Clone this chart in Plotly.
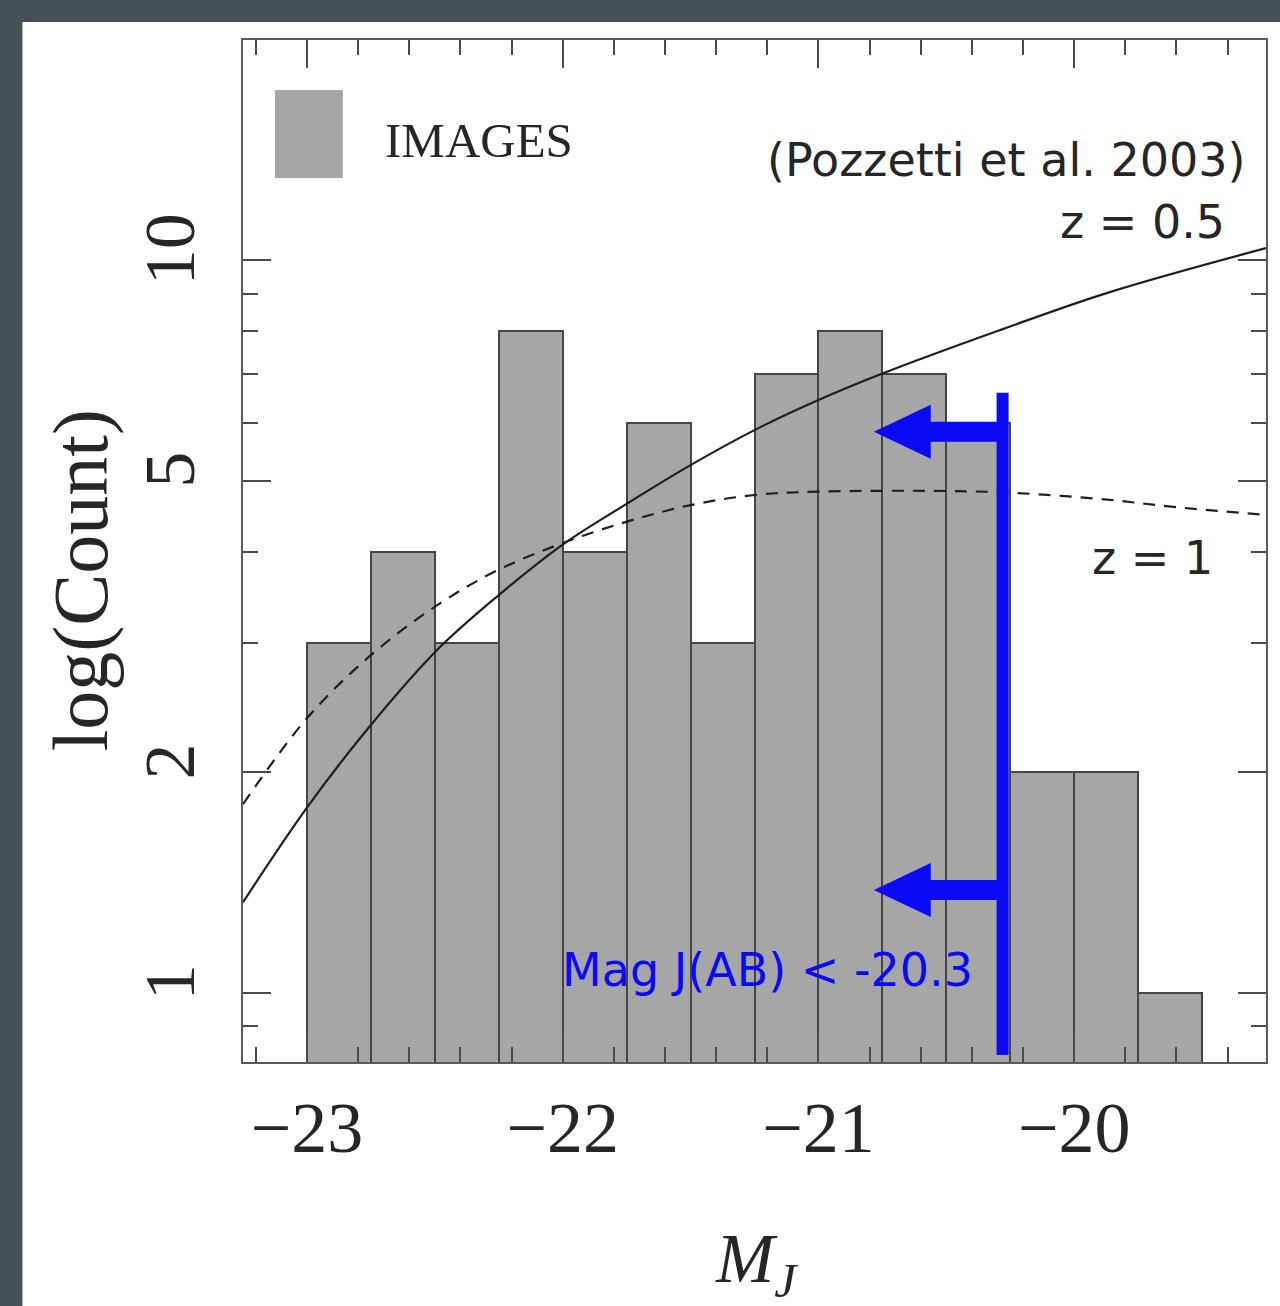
import math
import plotly.graph_objects as go

# ---------------- data ----------------
bin_left_edges = [-23.0, -22.75, -22.5, -22.25, -22.0, -21.75, -21.5, -21.25,
                  -21.0, -20.75, -20.5, -20.25, -20.0, -19.75]
bin_width = 0.25
counts = [3, 4, 3, 8, 4, 6, 3, 7, 8, 7, 6, 2, 2, 1]

# Pozzetti et al. 2003 luminosity functions (scaled)
z05_mag = [-23.25, -23.0, -22.755, -22.49, -22.25, -22.0, -21.745, -21.5,
           -21.25, -21.0, -20.745, -20.3, -19.87, -19.25]
z05_n = [1.33, 1.79, 2.31, 2.94, 3.49, 4.09, 4.66, 5.25,
         5.86, 6.44, 7.01, 8.0, 9.02, 10.38]

z1_mag = [-23.25, -23.0, -22.75, -22.48, -22.25, -22.0, -21.745, -21.5,
          -21.25, -21.0, -20.5, -20.23, -19.87, -19.6, -19.25]
z1_n = [1.81, 2.37, 2.89, 3.40, 3.78, 4.11, 4.40, 4.63,
        4.78, 4.83, 4.84, 4.81, 4.71, 4.60, 4.49]

mag_cut = -20.28          # Mag J(AB) < -20.3 selection limit
x_ticks = [-23, -22, -21, -20]
x_tick_text = ["\u221223", "\u221222", "\u221221", "\u221220"]
y_ticks = [1, 2, 5, 10]
y_minor = [0.9, 3, 4, 6, 7, 8, 9, 20]

# ---------------- geometry / style ----------------
W, H = 1280, 1306
L, R, T, B = 243, 12, 40, 244
pw, ph = W - L - R, H - T - B
X_RANGE = [-23.25, -19.25]
Y_RANGE = [math.log10(0.805), math.log10(19.96)]
BLUE = "#0a0af5"
TXT = "#262626"
SERIF = "Liberation Serif, DejaVu Serif, serif"
SANS = "DejaVu Sans, Verdana, sans-serif"


def px2paper_x(px):
    return (px - L) / pw


def px2paper_y(py):
    return (H - B - py) / ph


centers = [e + bin_width / 2 for e in bin_left_edges]

fig = go.Figure()

fig.add_trace(go.Bar(
    x=centers, y=counts, width=bin_width, name="IMAGES",
    marker=dict(color="#a6a6a6", line=dict(color="#454545", width=2)),
    showlegend=False, hoverinfo="x+y",
))

fig.add_trace(go.Scatter(
    x=z05_mag, y=z05_n, mode="lines",
    line=dict(color="#1e1e1e", width=2.2, shape="spline", smoothing=1.0),
    name="z = 0.5", showlegend=False,
))
fig.add_trace(go.Scatter(
    x=z1_mag, y=z1_n, mode="lines",
    line=dict(color="#1e1e1e", width=2.2, shape="spline", smoothing=1.0, dash="12px,9px"),
    name="z = 1", showlegend=False,
))

# --- blue selection limit with arrows ---
dex_per_px = (Y_RANGE[1] - Y_RANGE[0]) / ph
unit_per_px = (X_RANGE[1] - X_RANGE[0]) / pw
line_top = 6.59
line_bot = 0.823
fig.add_trace(go.Scatter(
    x=[mag_cut, mag_cut], y=[line_top, line_bot], mode="lines",
    line=dict(color=BLUE, width=12), showlegend=False, hoverinfo="skip",
))
for ya in [5.83, 1.382]:
    x_base = mag_cut - 74 * unit_per_px
    x_tip = x_base - 55 * unit_per_px
    fig.add_trace(go.Scatter(
        x=[mag_cut, x_base], y=[ya, ya], mode="lines",
        line=dict(color=BLUE, width=20), showlegend=False, hoverinfo="skip",
    ))
    f = 10 ** (27 * dex_per_px)
    fig.add_trace(go.Scatter(
        x=[x_tip, x_base + 2 * unit_per_px, x_base + 2 * unit_per_px, x_tip],
        y=[ya, ya * f, ya / f, ya], mode="lines", fill="toself",
        fillcolor=BLUE, line=dict(color=BLUE, width=0),
        showlegend=False, hoverinfo="skip",
    ))

axis_common = dict(
    showline=True, linecolor="#5a5a5a", linewidth=2, mirror="ticks",
    ticks="inside", tickcolor="#4a4a4a", tickwidth=2,
    showgrid=False, zeroline=False,
)

fig.update_xaxes(
    range=X_RANGE, tickmode="array", tickvals=x_ticks, ticktext=x_tick_text,
    ticklen=28, ticklabelstandoff=2,
    tickfont=dict(family=SERIF, size=72, color=TXT),
    minor=dict(dtick=0.2, tick0=-23, ticklen=15, tickcolor="#4a4a4a", tickwidth=2, ticks="inside"),
    **axis_common,
)
fig.update_yaxes(
    type="log", range=Y_RANGE, tickmode="array", tickvals=y_ticks,
    ticktext=[str(v) for v in y_ticks], ticklen=28, tickangle=-90, ticklabelstandoff=18,
    tickfont=dict(family=SERIF, size=72, color=TXT),
    minor=dict(tickmode="array", tickvals=y_minor, ticklen=15, tickcolor="#4a4a4a",
               tickwidth=2, ticks="inside"),
    **axis_common,
)

shapes = [
    # slide background panel
    dict(type="rect", xref="paper", yref="paper", layer="below",
         x0=px2paper_x(22), x1=px2paper_x(1290), y0=px2paper_y(1316), y1=px2paper_y(22),
         fillcolor="white", line=dict(width=0)),
    # legend swatch
    dict(type="rect", xref="paper", yref="paper",
         x0=px2paper_x(275), x1=px2paper_x(343), y0=px2paper_y(178), y1=px2paper_y(90),
         fillcolor="#a6a6a6", line=dict(width=0)),
]

annotations = [
    dict(text="IMAGES", x=px2paper_x(383), y=px2paper_y(141), xanchor="left", yanchor="middle",
         font=dict(family=SERIF, size=49, color=TXT)),
    dict(text="(Pozzetti et al. 2003)", x=px2paper_x(1249), y=px2paper_y(160),
         xanchor="right", yanchor="middle", font=dict(family=SANS, size=46, color=TXT)),
    dict(text="z = 0.5", x=px2paper_x(1229), y=px2paper_y(222),
         xanchor="right", yanchor="middle", font=dict(family=SANS, size=46, color=TXT)),
    dict(text="z = 1", x=px2paper_x(1217), y=px2paper_y(558),
         xanchor="right", yanchor="middle", font=dict(family=SANS, size=46, color=TXT)),
    dict(text="Mag J(AB) < -20.3", x=px2paper_x(769), y=px2paper_y(970),
         xanchor="center", yanchor="middle", font=dict(family=SANS, size=46, color=BLUE)),
    # axis titles
    dict(text="<i>M</i><sub><i>J</i></sub>", x=px2paper_x(758), y=px2paper_y(1264),
         xanchor="center", yanchor="middle", font=dict(family=SERIF, size=70, color=TXT)),
    dict(text="log(Count)", x=px2paper_x(80), y=px2paper_y(580), textangle=-90,
         xanchor="center", yanchor="middle", font=dict(family=SERIF, size=78, color=TXT)),
]
for a in annotations:
    a.update(xref="paper", yref="paper", showarrow=False)

fig.update_layout(
    width=W, height=H,
    margin=dict(l=L, r=R, t=T, b=B),
    paper_bgcolor="#465156", plot_bgcolor="white",
    shapes=shapes, annotations=annotations,
    bargap=0, showlegend=False,
)

fig.write_html("out.html", config={"displayModeBar": False},
               post_script="document.body.style.margin='0';")
